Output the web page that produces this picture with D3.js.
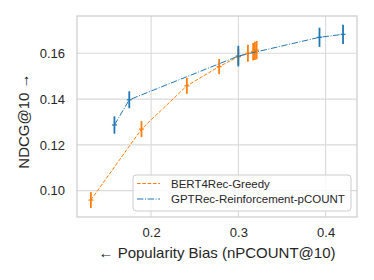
<!DOCTYPE html>
<html>
<head>
<meta charset="utf-8">
<script src="https://cdn.jsdelivr.net/npm/d3@7"></script>
<style>
body { margin: 0; background: #fff; }
svg text { font-family: "Liberation Sans", Arial, sans-serif; fill: #262626; }
</style>
</head>
<body>
<div id="chart"></div>
<script>
// Data
var series_names = ['BERT4Rec-Greedy', 'GPTRec-Reinforcement-pCOUNT'];

var bert_x    = [0.131, 0.189, 0.241, 0.278, 0.300, 0.311, 0.317, 0.319, 0.321];
var bert_y    = [0.0959, 0.1269, 0.1458, 0.1542, 0.1585, 0.1600, 0.1607, 0.1611, 0.1614];
var bert_yerr = [0.0035, 0.0035, 0.0035, 0.0033, 0.0035, 0.0037, 0.0038, 0.0040, 0.0040];

var gpt_x    = [0.158, 0.175, 0.300, 0.393, 0.420];
var gpt_y    = [0.1287, 0.1397, 0.1588, 0.1670, 0.1683];
var gpt_yerr = [0.0038, 0.0037, 0.0045, 0.0042, 0.0042];

var x_ticks = [0.2, 0.3, 0.4];
var y_ticks = [0.10, 0.12, 0.14, 0.16];

var chart_width  = 374;
var chart_height = 280;
var margin = { left: 77, right: 17, top: 16, bottom: 63 };

var svg = d3.select('#chart')
    .append('svg')
    .attr('width', chart_width)
    .attr('height', chart_height);

var x = d3.scaleLinear()
    .domain([0.1151, 0.436])
    .range([margin.left, chart_width - margin.right]);

var y = d3.scaleLinear()
    .domain([0.0885, 0.1763])
    .range([chart_height - margin.bottom, margin.top]);

// grid
var grid = svg.append('g');
grid.selectAll('line.gx')
    .data(x_ticks)
    .enter()
    .append('line')
    .attr('x1', function(d){ return x(d); })
    .attr('x2', function(d){ return x(d); })
    .attr('y1', margin.top)
    .attr('y2', chart_height - margin.bottom)
    .attr('stroke', '#d9d9d9')
    .attr('stroke-width', 1.1);
grid.selectAll('line.gy')
    .data(y_ticks)
    .enter()
    .append('line')
    .attr('x1', margin.left)
    .attr('x2', chart_width - margin.right)
    .attr('y1', function(d){ return y(d); })
    .attr('y2', function(d){ return y(d); })
    .attr('stroke', '#d9d9d9')
    .attr('stroke-width', 1.1);

// axes
var x_axis = d3.axisBottom(x).tickValues(x_ticks).tickSize(0).tickPadding(11)
    .tickFormat(d3.format('.1f'));
var y_axis = d3.axisLeft(y).tickValues(y_ticks).tickSize(0).tickPadding(12)
    .tickFormat(d3.format('.2f'));

svg.append('g')
    .attr('transform', 'translate(0,' + (chart_height - margin.bottom) + ')')
    .call(x_axis)
    .call(function(g){ g.select('.domain').remove(); })
    .selectAll('text').style('font-size', '13px').attr('fill', '#262626');

svg.append('g')
    .attr('transform', 'translate(' + margin.left + ',0)')
    .call(y_axis)
    .call(function(g){ g.select('.domain').remove(); })
    .selectAll('text').style('font-size', '13px').attr('fill', '#262626');

svg.append('rect')
    .attr('x', margin.left)
    .attr('y', margin.top)
    .attr('width', chart_width - margin.left - margin.right)
    .attr('height', chart_height - margin.top - margin.bottom)
    .attr('fill', 'none')
    .attr('stroke', '#cccccc')
    .attr('stroke-width', 1.2);

// labels
svg.append('text')
    .attr('x', (margin.left + chart_width - margin.right) / 2)
    .attr('y', 258)
    .attr('text-anchor', 'middle')
    .style('font-size', '15px')
    .text('\u2190 Popularity Bias (nPCOUNT@10)');

svg.append('text')
    .attr('transform', 'translate(29,' + 121 + ') rotate(-90)')
    .attr('text-anchor', 'middle')
    .style('font-size', '15px')
    .text('NDCG@10 \u2192');

function draw_series(xs, ys, errs, color, dash) {
    var pts = xs.map(function(d, i){ return [d, ys[i], errs[i]]; });
    var line = d3.line()
        .x(function(d){ return x(d[0]); })
        .y(function(d){ return y(d[1]); });
    var g = svg.append('g');
    g.append('path')
        .datum(pts)
        .attr('d', line)
        .attr('fill', 'none')
        .attr('stroke', color)
        .attr('stroke-width', 1)
        .attr('stroke-dasharray', dash);
    g.selectAll('line.ey')
        .data(pts)
        .enter()
        .append('line')
        .attr('x1', function(d){ return x(d[0]); })
        .attr('x2', function(d){ return x(d[0]); })
        .attr('y1', function(d){ return y(d[1] - d[2]); })
        .attr('y2', function(d){ return y(d[1] + d[2]); })
        .attr('stroke', color)
        .attr('stroke-width', 1.8);
    g.selectAll('line.ex')
        .data(pts)
        .enter()
        .append('line')
        .attr('x1', function(d){ return x(d[0]) - 2.5; })
        .attr('x2', function(d){ return x(d[0]) + 2.5; })
        .attr('y1', function(d){ return y(d[1]); })
        .attr('y2', function(d){ return y(d[1]); })
        .attr('stroke', color)
        .attr('stroke-width', 1.2);
}

var orange = '#ff7f0e';
var blue = '#1f77b4';
draw_series(bert_x, bert_y, bert_yerr, orange, '3.7,1.6');
draw_series(gpt_x, gpt_y, gpt_yerr, blue, '6.4,1.6,1,1.6');

// legend
var legend = svg.append('g');
legend.append('rect')
    .attr('x', 133)
    .attr('y', 175)
    .attr('width', 218)
    .attr('height', 36)
    .attr('rx', 3)
    .attr('fill', '#ffffff')
    .attr('fill-opacity', 0.8)
    .attr('stroke', '#cccccc')
    .attr('stroke-width', 1);

var legend_items = [
    { name: series_names[0], color: orange, dash: '3.7,1.6' },
    { name: series_names[1], color: blue, dash: '6.4,1.6,1,1.6' }
];
legend_items.forEach(function(d, i){
    var ly = 183.5 + i * 15.5;
    legend.append('line')
        .attr('x1', 137)
        .attr('x2', 160)
        .attr('y1', ly)
        .attr('y2', ly)
        .attr('stroke', d.color)
        .attr('stroke-width', 1.2)
        .attr('stroke-dasharray', d.dash);
    legend.append('text')
        .attr('x', 171)
        .attr('y', ly)
        .attr('dy', '0.35em')
        .style('font-size', '11.5px')
        .text(d.name);
});
</script>
</body>
</html>
